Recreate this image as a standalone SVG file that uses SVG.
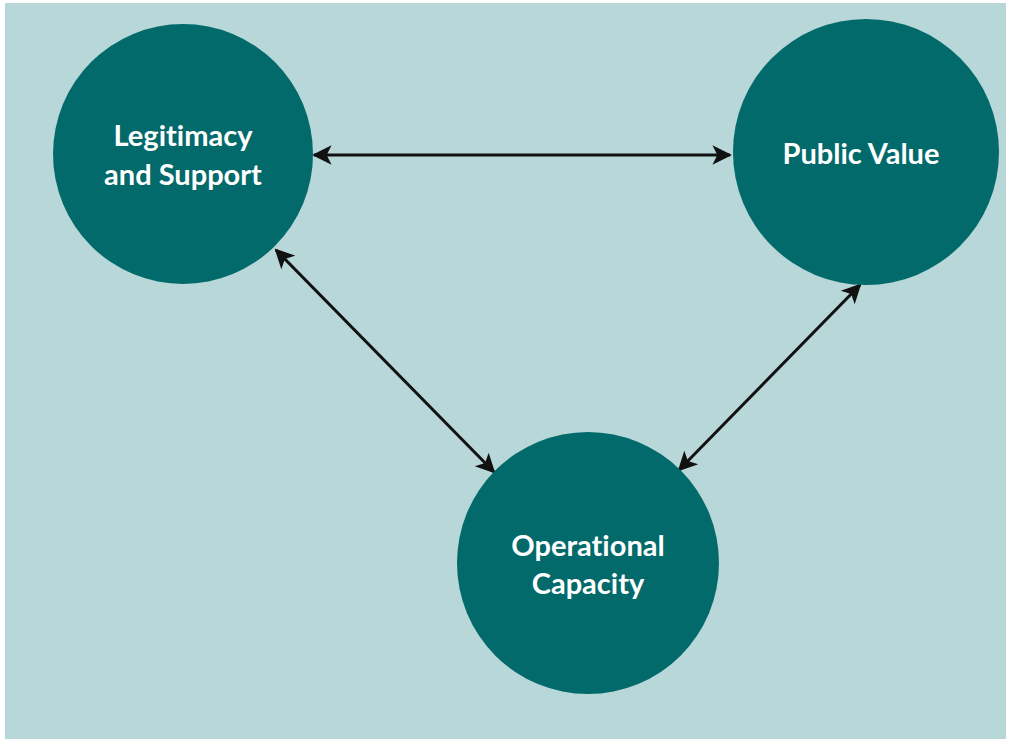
<svg xmlns="http://www.w3.org/2000/svg" width="1011" height="743" viewBox="0 0 1011 743">
<style>
.node{fill:#036a6b;}
.lbl{fill:#ffffff;font-family:Lato,"Liberation Sans",sans-serif;font-weight:bold;font-size:29px;text-anchor:middle;font-variant-ligatures:none;font-feature-settings:"liga" 0;}
.conn{stroke:#111;stroke-width:3;fill:none;marker-start:url(#ah);marker-end:url(#ah);}
</style>
<defs>
<marker id="ah" viewBox="0 0 10 10" refX="9" refY="5" markerWidth="7" markerHeight="6.5" orient="auto-start-reverse" markerUnits="strokeWidth">
<path d="M0,0 L10,5 L0,10 L2.5,5 z" fill="#111"/>
</marker>
</defs>
<rect x="0" y="0" width="1011" height="743" fill="#ffffff"/>
<rect x="5" y="3" width="1001" height="736" fill="#b8d7d9"/>
<g id="connectors">
<line class="conn" x1="314" y1="155" x2="730" y2="155"/>
<line class="conn" x1="276" y1="250" x2="494" y2="472"/>
<line class="conn" x1="679" y1="470" x2="860" y2="285"/>
</g>
<g id="legitimacy">
<circle class="node" cx="183" cy="154" r="130"/>
<text class="lbl" x="183" y="146">Legitimacy</text>
<text class="lbl" x="183" y="185">and Support</text>
</g>
<g id="public-value">
<circle class="node" cx="866" cy="152" r="133"/>
<text class="lbl" x="861" y="164">Public Value</text>
</g>
<g id="operational">
<circle class="node" cx="588" cy="563" r="131"/>
<text class="lbl" x="588" y="556">Operational</text>
<text class="lbl" x="588" y="594">Capacity</text>
</g>
</svg>
